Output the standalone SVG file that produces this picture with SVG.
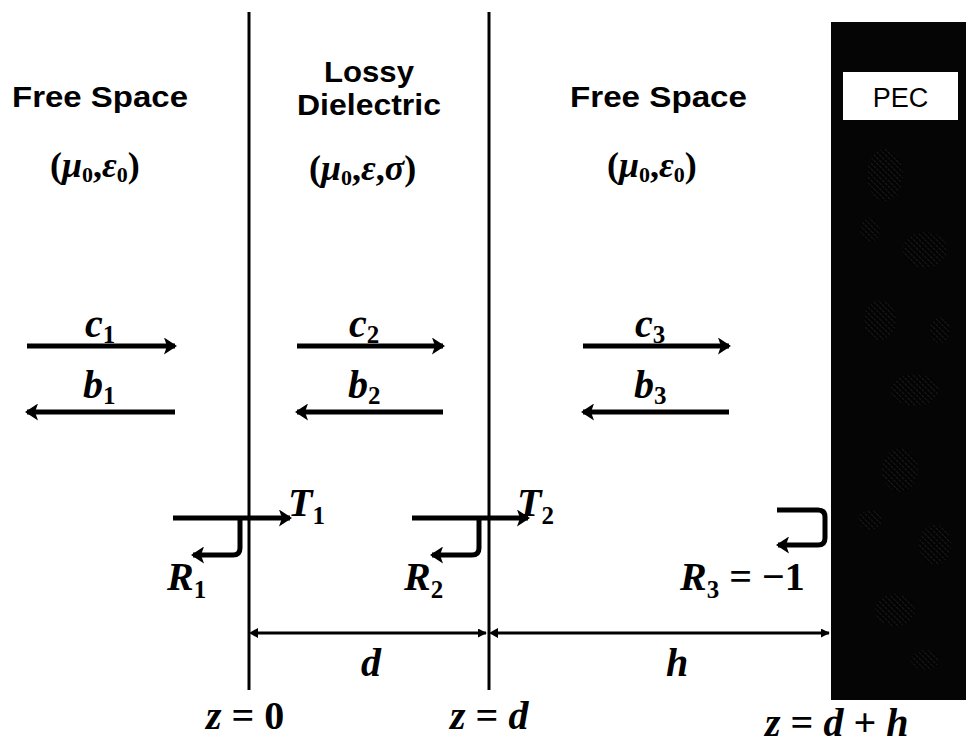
<svg xmlns="http://www.w3.org/2000/svg" width="966" height="744" viewBox="0 0 966 744">
<style>
.ln{stroke:#000;stroke-width:3;fill:none}
.ar{stroke:#000;stroke-width:5;fill:none;marker-end:url(#ah)}
.lbl{font-family:"Liberation Sans",Arial,sans-serif;font-weight:bold;font-size:29px;fill:#000}
.m{font-family:"Liberation Serif","Times New Roman",serif;font-style:italic;font-weight:bold;font-size:40px;fill:#000}
.p{font-family:"Liberation Serif","Times New Roman",serif;font-style:italic;font-weight:bold;font-size:36px;fill:#000}
.up{font-style:normal}
.sub{font-size:25px;font-style:normal}
.psub{font-size:22px;font-style:normal}
</style>
<defs>
<marker id="ah" viewBox="0 0 13 17" refX="11" refY="8.5" markerWidth="13" markerHeight="17" markerUnits="userSpaceOnUse" orient="auto">
<path d="M0,0 L13,8.5 L0,17 L3,8.5 Z" fill="#000"/>
</marker>
<marker id="dh" viewBox="0 0 10 10" refX="9" refY="5" markerWidth="9" markerHeight="9" markerUnits="userSpaceOnUse" orient="auto">
<path d="M0,0 L10,5 L0,10 Z" fill="#000"/>
</marker>
<pattern id="hatch" width="4" height="4" patternUnits="userSpaceOnUse" patternTransform="rotate(-45)">
<rect width="4" height="4" fill="#000"/>
<line x1="0" y1="0" x2="0" y2="4" stroke="#888" stroke-width="1" stroke-dasharray="2 1"/>
</pattern>
</defs>

<g id="pec">
<rect x="831" y="22" width="135" height="678" fill="#050505"/>
<g fill="url(#hatch)" opacity="0.35">
<ellipse cx="885" cy="175" rx="18" ry="26"/>
<ellipse cx="925" cy="250" rx="22" ry="18"/>
<ellipse cx="880" cy="320" rx="16" ry="20"/>
<ellipse cx="915" cy="390" rx="24" ry="16"/>
<ellipse cx="900" cy="470" rx="18" ry="22"/>
<ellipse cx="935" cy="545" rx="16" ry="20"/>
<ellipse cx="895" cy="610" rx="20" ry="16"/>
<ellipse cx="870" cy="230" rx="10" ry="12"/>
<ellipse cx="940" cy="330" rx="10" ry="13"/>
<ellipse cx="870" cy="520" rx="12" ry="10"/>
<ellipse cx="925" cy="660" rx="14" ry="10"/>
</g>
<rect x="843" y="72" width="115" height="48" fill="#fff"/>
<text x="900.5" y="107" text-anchor="middle" style="font-family:'Liberation Sans',Arial,sans-serif;font-size:27px;fill:#000">PEC</text>
</g>

<g id="boundaries">
<line class="ln" x1="249" y1="12" x2="249" y2="690"/>
<line class="ln" x1="489" y1="12" x2="489" y2="690"/>
</g>

<g id="region1">
<text class="lbl" x="12" y="107" textLength="176" lengthAdjust="spacingAndGlyphs">Free Space</text>
<text class="p" x="50" y="177"><tspan class="up">(</tspan>μ<tspan class="psub" dy="5">0</tspan><tspan dy="-5" class="up">,</tspan>ε<tspan class="psub" dy="5">0</tspan><tspan class="up" dy="-5">)</tspan></text>
</g>
<g id="region2">
<text class="lbl" x="369" y="82" text-anchor="middle" textLength="90" lengthAdjust="spacingAndGlyphs">Lossy</text>
<text class="lbl" x="369" y="115" text-anchor="middle" textLength="144" lengthAdjust="spacingAndGlyphs">Dielectric</text>
<text class="p" x="309" y="180"><tspan class="up">(</tspan>μ<tspan class="psub" dy="5">0</tspan><tspan dy="-5" class="up">,</tspan>ε<tspan class="up">,</tspan>σ<tspan class="up">)</tspan></text>
</g>
<g id="region3">
<text class="lbl" x="570" y="107" textLength="177" lengthAdjust="spacingAndGlyphs">Free Space</text>
<text class="p" x="607" y="177"><tspan class="up">(</tspan>μ<tspan class="psub" dy="5">0</tspan><tspan dy="-5" class="up">,</tspan>ε<tspan class="psub" dy="5">0</tspan><tspan class="up" dy="-5">)</tspan></text>
</g>

<g id="connectors">
<line class="ar" x1="27" y1="346" x2="175" y2="346"/>
<line class="ar" x1="175" y1="412" x2="27" y2="412"/>
<line class="ar" x1="297" y1="346" x2="443" y2="346"/>
<line class="ar" x1="443" y1="412" x2="297" y2="412"/>
<line class="ar" x1="583" y1="346" x2="729" y2="346"/>
<line class="ar" x1="729" y1="412" x2="583" y2="412"/>
<line class="ar" x1="173" y1="518" x2="290" y2="518"/>
<path class="ar" d="M240,518 V548 Q240,555 233,555 H193"/>
<line class="ar" x1="412" y1="518" x2="528" y2="518"/>
<path class="ar" d="M479,518 V548 Q479,555 472,555 H432"/>
<path class="ar" d="M777,510 H818 Q825,510 825,517 V538 Q825,545 818,545 H778"/>
<line stroke="#000" stroke-width="3" x1="255" y1="633" x2="486" y2="633" marker-end="url(#dh)"/>
<path d="M258,628 L249,633 L258,638 Z" fill="#000"/>
<line stroke="#000" stroke-width="3" x1="495" y1="633" x2="829" y2="633" marker-end="url(#dh)"/>
<path d="M498,628 L489,633 L498,638 Z" fill="#000"/>
</g>

<g id="labels">
<text class="m" x="85" y="337">c<tspan class="sub" dy="6">1</tspan></text>
<text class="m" x="83" y="398">b<tspan class="sub" dy="6">1</tspan></text>
<text class="m" x="349" y="337">c<tspan class="sub" dy="6">2</tspan></text>
<text class="m" x="348" y="398">b<tspan class="sub" dy="6">2</tspan></text>
<text class="m" x="635" y="337">c<tspan class="sub" dy="6">3</tspan></text>
<text class="m" x="634" y="398">b<tspan class="sub" dy="6">3</tspan></text>
<text class="m" x="288" y="516">T<tspan class="sub" dy="8">1</tspan></text>
<text class="m" x="167" y="590">R<tspan class="sub" dy="8">1</tspan></text>
<text class="m" x="517" y="516">T<tspan class="sub" dy="8">2</tspan></text>
<text class="m" x="404" y="590">R<tspan class="sub" dy="8">2</tspan></text>
<text class="m" x="680" y="590">R<tspan class="sub" dy="8">3</tspan><tspan class="up" dy="-8"> = −1</tspan></text>
<text class="m" x="361" y="676">d</text>
<text class="m" x="666" y="676">h</text>
<text class="m" x="206" y="729">z<tspan class="up"> = 0</tspan></text>
<text class="m" x="450" y="729">z<tspan class="up"> = </tspan>d</text>
<text class="m" x="765" y="736">z<tspan class="up"> = </tspan>d<tspan class="up"> + </tspan>h</text>
</g>
</svg>
